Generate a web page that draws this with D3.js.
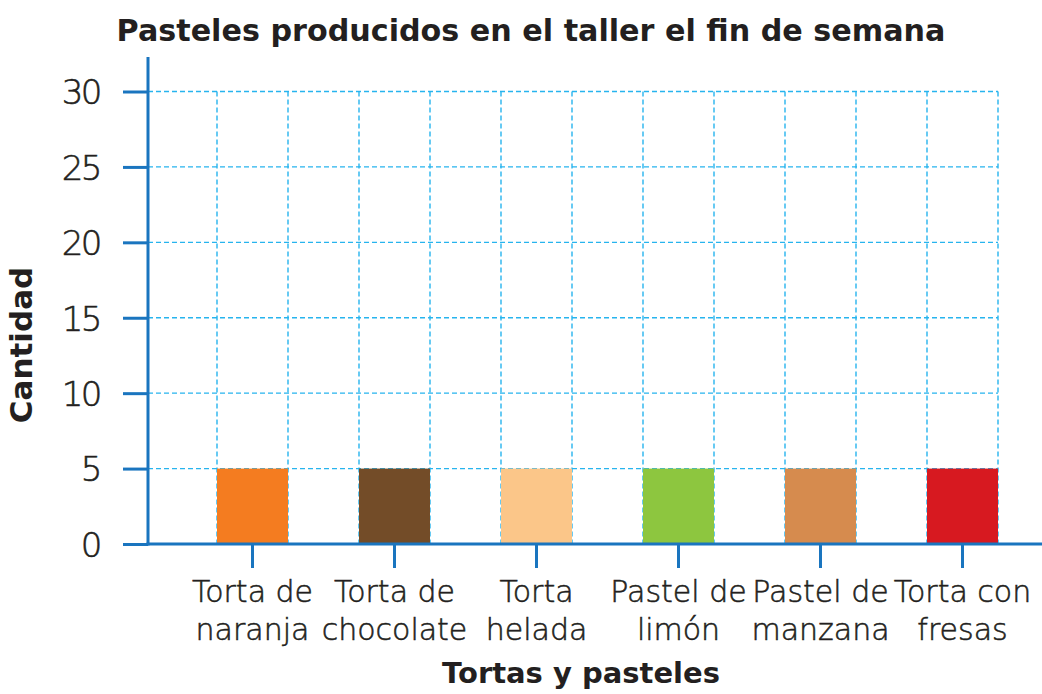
<!DOCTYPE html>
<html>
<head>
<meta charset="utf-8">
<script src="https://cdn.jsdelivr.net/npm/d3@7"></script>
<style>
  html, body { margin: 0; padding: 0; background: #ffffff; }
  svg { display: block; }
  text { fill: #231f20; }
  .light { font-family: "DejaVu Sans", sans-serif; font-weight: 200; stroke: #231f20; stroke-width: 0.55px; }
  .heavy { font-family: "DejaVu Sans", sans-serif; font-weight: bold; }
</style>
</head>
<body>
<svg id="chart" width="1042" height="694"></svg>
<script>
// Cakes produced in the workshop over the weekend
const categories = [
  ["Torta de", "naranja"],
  ["Torta de", "chocolate"],
  ["Torta", "helada"],
  ["Pastel de", "limón"],
  ["Pastel de", "manzana"],
  ["Torta con", "fresas"]
];
const values = [5, 5, 5, 5, 5, 5];
const barColors = ["#f47c20", "#734c28", "#fbc689", "#8dc63f", "#d68b4e", "#d71920"];
const yTicks = [0, 5, 10, 15, 20, 25, 30];
const title = "Pasteles producidos en el taller el fin de semana";
const xTitle = "Tortas y pasteles";
const yTitle = "Cantidad";

const axisBlue = "#1a75bf";
const gridBlue = "#27b4ee";

const svg = d3.select("#chart");
const keys = categories.map((c) => c.join(" "));

const x = d3.scaleBand()
  .domain(keys)
  .range([181.5, 1033.5])
  .paddingInner(0.5)
  .paddingOuter(0.25);

const y = d3.scaleLinear().domain([0, 30]).range([544, 91.5]);

const axisX = 148;
const gridRight = x(keys[keys.length - 1]) + x.bandwidth();

// dashed grid: horizontal at each tick, vertical at every bar edge
const grid = svg.append("g");
grid.selectAll("line.h")
  .data(yTicks.filter((d) => d > 0))
  .join("line")
  .attr("x1", axisX).attr("x2", gridRight)
  .attr("y1", (d) => y(d)).attr("y2", (d) => y(d))
  .attr("stroke", gridBlue).attr("stroke-width", 1.4)
  .attr("stroke-dasharray", "5,3");
const edges = keys.flatMap((k) => [x(k), x(k) + x.bandwidth()]);
grid.selectAll("line.v")
  .data(edges)
  .join("line")
  .attr("x1", (d) => d).attr("x2", (d) => d)
  .attr("y1", y(30)).attr("y2", y(0))
  .attr("stroke", gridBlue).attr("stroke-width", 1.4)
  .attr("stroke-dasharray", "5,3");

// bars
svg.append("g").selectAll("rect")
  .data(values)
  .join("rect")
  .attr("x", (d, i) => x(keys[i]))
  .attr("y", (d) => y(d))
  .attr("width", x.bandwidth())
  .attr("height", (d) => y(0) - y(d))
  .attr("fill", (d, i) => barColors[i]);

// y axis with ticks pointing left
const yAxis = svg.append("g").attr("transform", `translate(${axisX},0)`)
  .call(d3.axisLeft(y).tickValues(yTicks).tickSize(25).tickPadding(23).tickFormat(d3.format("d")));
yAxis.select(".domain").remove();
yAxis.selectAll(".tick line").attr("stroke", axisBlue).attr("stroke-width", 3);
yAxis.selectAll(".tick text")
  .attr("class", "light")
  .attr("font-family", null).attr("font-size", null)
  .style("font-size", "34px").style("letter-spacing", "-2.5px")
  .attr("fill", "#231f20").attr("dy", "0.36em");
svg.append("line")
  .attr("x1", axisX).attr("x2", axisX).attr("y1", 57).attr("y2", y(0) + 1.5)
  .attr("stroke", axisBlue).attr("stroke-width", 3);

// x axis line running to the right edge, ticks pointing down
svg.append("line")
  .attr("x1", axisX - 1.5).attr("x2", 1042).attr("y1", y(0)).attr("y2", y(0))
  .attr("stroke", axisBlue).attr("stroke-width", 3);
const xAxis = svg.append("g").attr("transform", `translate(0,${y(0)})`)
  .call(d3.axisBottom(x).tickSize(24).tickFormat(""));
xAxis.select(".domain").remove();
xAxis.selectAll(".tick line").attr("stroke", axisBlue).attr("stroke-width", 3);

// two-line category labels
const labels = svg.append("g").selectAll("text")
  .data(categories)
  .join("text")
  .attr("class", "light")
  .attr("text-anchor", "middle")
  .attr("transform", (d, i) => `translate(${x(keys[i]) + x.bandwidth() / 2},602)`)
  .style("font-size", "30px");
labels.selectAll("tspan")
  .data((d) => d)
  .join("tspan")
  .attr("x", 0)
  .attr("dy", (d, j) => (j === 0 ? 0 : 38))
  .text((d) => d);

// titles
svg.append("text")
  .attr("class", "heavy")
  .attr("x", 531).attr("y", 41)
  .attr("text-anchor", "middle")
  .style("font-size", "30.2px")
  .text(title);

svg.append("text")
  .attr("class", "heavy")
  .attr("x", 581).attr("y", 683)
  .attr("text-anchor", "middle")
  .style("font-size", "29px")
  .text(xTitle);

svg.append("text")
  .attr("class", "heavy")
  .attr("transform", "translate(32,345) rotate(-90)")
  .attr("text-anchor", "middle")
  .style("font-size", "31px")
  .text(yTitle);
</script>
</body>
</html>
